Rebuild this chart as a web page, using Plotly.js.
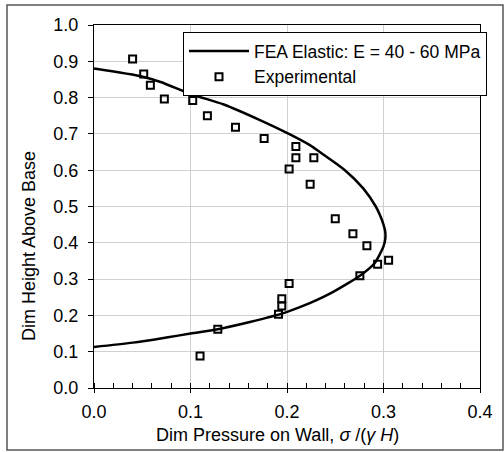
<!DOCTYPE html>
<html>
<head>
<meta charset="utf-8">
<script src="https://cdn.plot.ly/plotly-3.0.1.min.js"></script>
<style>
  html, body { margin: 0; padding: 0; background: #fff; }
  #chart { width: 504px; height: 452px; }
</style>
</head>
<body>
<div id="chart"></div>
<script>
// FEA Elastic curve (dim pressure x, dim height y)
const feaX = [0, 0.0515, 0.069, 0.1023, 0.1345, 0.172, 0.202, 0.2237, 0.234, 0.260, 0.279, 0.292, 0.2965, 0.300, 0.3018, 0.3018, 0.300, 0.2965, 0.2905, 0.2755, 0.2617, 0.2479, 0.2306, 0.2133, 0.1946, 0.1615, 0.1283, 0.100, 0.075, 0.0404, 0];
const feaY = [0.880, 0.857, 0.843, 0.808, 0.781, 0.738, 0.700, 0.669, 0.650, 0.600, 0.550, 0.500, 0.475, 0.450, 0.430, 0.410, 0.390, 0.370, 0.343, 0.309, 0.286, 0.265, 0.242, 0.223, 0.205, 0.182, 0.162, 0.150, 0.139, 0.125, 0.113];

// Experimental points
const expX = [0.040, 0.0515, 0.0584, 0.0729, 0.1023, 0.1175, 0.1466, 0.1763, 0.2092, 0.2092, 0.2278, 0.2022, 0.2240, 0.2500, 0.2683, 0.2828, 0.2939, 0.3053, 0.2755, 0.2022, 0.1946, 0.1946, 0.1912, 0.1283, 0.1099];
const expY = [0.906, 0.865, 0.834, 0.796, 0.792, 0.750, 0.718, 0.687, 0.665, 0.634, 0.634, 0.603, 0.561, 0.466, 0.425, 0.392, 0.341, 0.352, 0.309, 0.288, 0.246, 0.226, 0.203, 0.162, 0.088];

const seriesNames = ['FEA Elastic: E = 40 - 60 MPa', 'Experimental'];
const xTitle = 'Dim Pressure on Wall, <i>σ</i> /(<i>γ H</i>)';
const yTitle = 'Dim Height Above Base';

const FONT = 'Liberation Sans, Arial, sans-serif';
const L = 94, R = 24, T = 25, B = 64, W = 504, H = 452;
const PW = W - L - R, PH = H - T - B;
const px = v => (v - L) / PW;          // pixel x -> paper
const py = v => (H - B - v) / PH;      // pixel y -> paper

const traces = [
  {
    x: feaX, y: feaY, type: 'scatter', mode: 'lines',
    name: seriesNames[0],
    line: { color: '#000', width: 2.5, shape: 'spline', smoothing: 0.8 }
  },
  {
    x: expX, y: expY, type: 'scatter', mode: 'markers',
    name: seriesNames[1],
    marker: { symbol: 'square-open', size: 7, color: '#000', line: { color: '#000', width: 2 } }
  }
];

const layout = {
  width: W, height: H,
  margin: { l: L, r: R, t: T, b: B },
  paper_bgcolor: '#fff', plot_bgcolor: '#fff',
  font: { family: FONT, size: 18, color: '#000' },
  showlegend: true,
  legend: {
    x: px(183), y: py(32), xanchor: 'left', yanchor: 'top',
    bgcolor: '#fff', bordercolor: '#000', borderwidth: 1,
    font: { family: FONT, size: 17.5, color: '#000' },
    itemwidth: 60,
    tracegroupgap: 0
  },
  xaxis: {
    range: [0, 0.4], dtick: 0.1, tick0: 0, tickformat: '.1f',
    showgrid: true, gridcolor: '#d0d0d0', gridwidth: 1,
    showline: true, linecolor: '#000', linewidth: 1, mirror: true,
    ticks: 'outside', ticklen: 4, tickcolor: '#000',
    minor: { dtick: 0.02, ticks: 'inside', ticklen: 5, tickcolor: '#000', showgrid: false },
    zeroline: false,
    ticklabelstandoff: 3,
    tickfont: { family: FONT, size: 18 }
  },
  yaxis: {
    range: [0, 1], dtick: 0.1, tick0: 0, tickformat: '.1f',
    showgrid: true, gridcolor: '#d0d0d0', gridwidth: 1,
    showline: true, linecolor: '#000', linewidth: 1, mirror: true,
    ticks: 'outside', ticklen: 5, tickcolor: '#000',
    zeroline: false,
    ticklabelstandoff: 6,
    tickfont: { family: FONT, size: 18 }
  },
  annotations: [
    { text: xTitle, xref: 'paper', yref: 'paper', x: px(277), y: py(435),
      xanchor: 'center', yanchor: 'middle', showarrow: false,
      font: { family: FONT, size: 18, color: '#000' } },
    { text: yTitle, xref: 'paper', yref: 'paper', x: px(29), y: py(246),
      xanchor: 'center', yanchor: 'middle', showarrow: false, textangle: -90,
      font: { family: FONT, size: 18, color: '#000' } }
  ],
  shapes: [
    { type: 'rect', xref: 'paper', yref: 'paper',
      x0: px(7), x1: px(503), y0: py(450), y1: py(5),
      line: { color: '#555', width: 1.5 }, fillcolor: 'rgba(0,0,0,0)', layer: 'below' }
  ]
};

Plotly.newPlot('chart', traces, layout, { displayModeBar: false, staticPlot: true });
</script>
</body>
</html>
